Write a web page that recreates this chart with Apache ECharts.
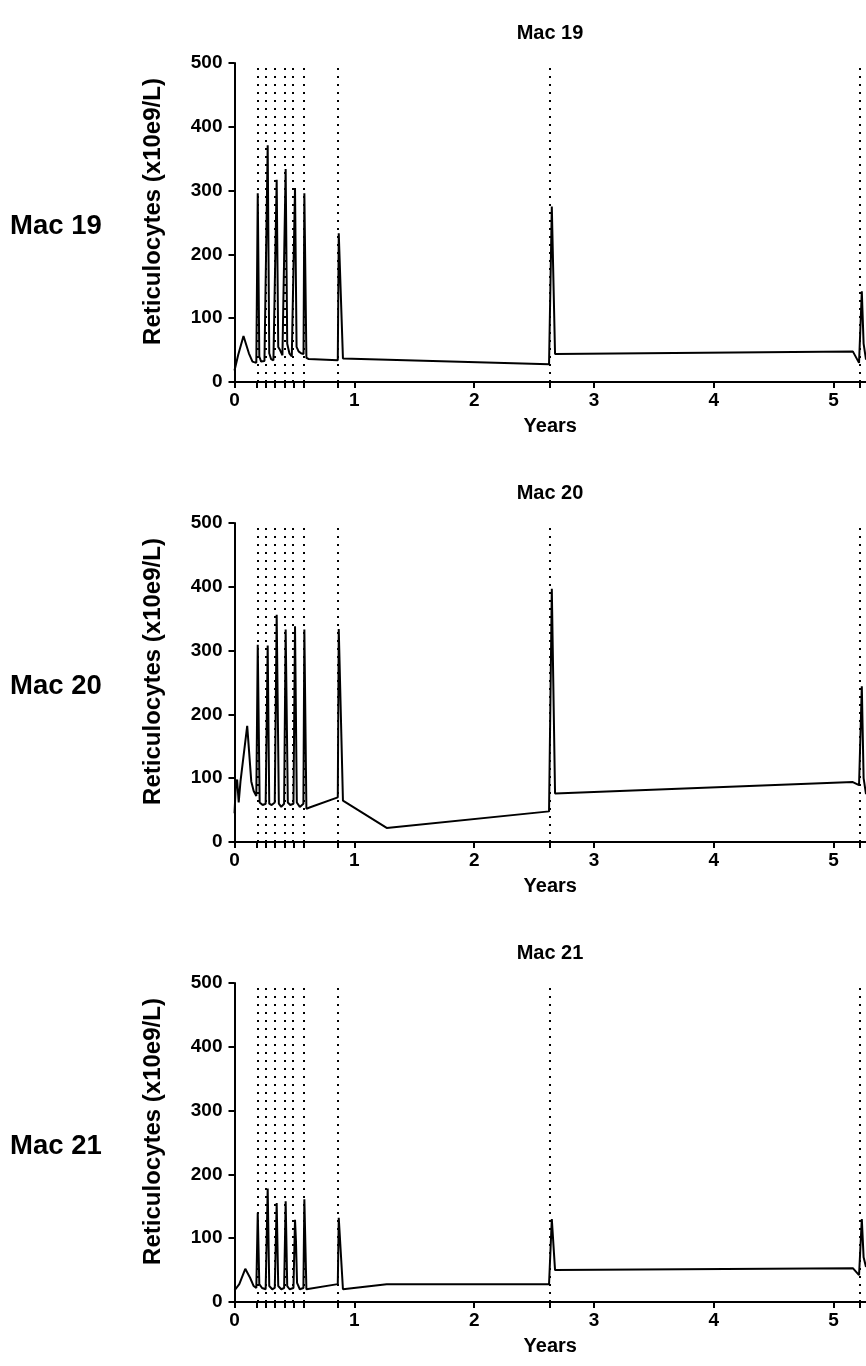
<!DOCTYPE html>
<html>
<head>
<meta charset="utf-8">
<script src="https://cdn.jsdelivr.net/npm/echarts@6/dist/echarts.min.js"></script>
<style>
html,body{margin:0;padding:0;background:#fff;}
#chart{width:866px;height:1366px;}
</style>
</head>
<body>
<div id="chart"></div>
<script>
// ---- data ----
const panelNames = ['Mac 19', 'Mac 20', 'Mac 21'];
const yAxisTitle = 'Reticulocytes (x10e9/L)';
const xAxisTitle = 'Years';
const yTicks = [0, 100, 200, 300, 400, 500];
const xTicks = [0, 1, 2, 3, 4, 5];
const treatmentTimes = [0.186, 0.263, 0.338, 0.416, 0.494, 0.577, 0.864, 2.634, 5.22];

const mac19Years = [0, 0.03, 0.075, 0.12, 0.15, 0.182, 0.194, 0.207, 0.222, 0.25, 0.262, 0.277, 0.29, 0.305, 0.325, 0.337, 0.352, 0.365, 0.38, 0.4, 0.415, 0.427, 0.44, 0.458, 0.478, 0.493, 0.505, 0.518, 0.535, 0.555, 0.576, 0.583, 0.6, 0.62, 0.862, 0.87, 0.905, 2.625, 2.648, 2.675, 5.16, 5.212, 5.235, 5.25, 5.27];
const mac19Retic = [18, 42, 72, 45, 32, 30, 296, 40, 32, 33, 34, 371, 45, 36, 34, 35, 317, 55, 50, 42, 40, 334, 60, 45, 40, 42, 304, 55, 48, 45, 44, 296, 38, 36, 34, 233, 37, 28, 275, 44, 48, 30, 142, 60, 35];

const mac20Years = [0, 0.01, 0.022, 0.035, 0.05, 0.106, 0.14, 0.16, 0.182, 0.194, 0.21, 0.235, 0.26, 0.277, 0.29, 0.31, 0.336, 0.352, 0.37, 0.39, 0.414, 0.427, 0.445, 0.465, 0.492, 0.505, 0.52, 0.545, 0.575, 0.583, 0.6, 0.626, 0.862, 0.87, 0.905, 1.27, 2.625, 2.648, 2.675, 5.16, 5.212, 5.235, 5.25, 5.27];
const mac20Retic = [45, 85, 98, 62, 95, 182, 95, 80, 72, 309, 62, 58, 60, 308, 60, 58, 62, 356, 60, 55, 60, 333, 62, 58, 60, 338, 62, 55, 60, 333, 52, 54, 70, 334, 65, 22, 48, 397, 76, 94, 89, 244, 100, 75];

const mac21Years = [0, 0.04, 0.09, 0.13, 0.16, 0.182, 0.194, 0.207, 0.23, 0.26, 0.277, 0.29, 0.315, 0.336, 0.352, 0.365, 0.39, 0.414, 0.427, 0.44, 0.46, 0.492, 0.505, 0.513, 0.522, 0.545, 0.575, 0.583, 0.6, 0.862, 0.87, 0.905, 1.27, 2.625, 2.648, 2.675, 5.16, 5.212, 5.235, 5.25, 5.27];
const mac21Retic = [18, 28, 52, 38, 25, 22, 140, 28, 22, 20, 178, 25, 20, 22, 155, 25, 20, 22, 158, 25, 20, 22, 129, 95, 30, 20, 22, 161, 20, 28, 132, 20, 28, 28, 130, 50, 53, 42, 130, 70, 55];

const seriesYears = [mac19Years, mac20Years, mac21Years];
const seriesRetic = [mac19Retic, mac20Retic, mac21Retic];

// ---- layout ----
const FONT = '"Liberation Sans", Arial, Helvetica, sans-serif';
const gridLeft = 234.5;
const gridTops = [63, 523, 983];
const gridHeight = 319;
const panelShift = 460;

const grids = [], xAxes = [], yAxes = [], series = [], graphics = [];
panelNames.forEach((name, i) => {
  grids.push({left: gridLeft, right: 0, top: gridTops[i], height: gridHeight, containLabel: false});
  xAxes.push({
    type: 'value', gridIndex: i, min: 0, max: 5.27,
    name: xAxisTitle, nameLocation: 'middle', nameGap: 34,
    nameTextStyle: {fontFamily: FONT, fontWeight: 'bold', fontSize: 20, color: '#000'},
    axisLine: {show: true, lineStyle: {color: '#000', width: 2}},
    axisTick: {show: true, length: 6, lineStyle: {color: '#000', width: 2}, customValues: xTicks.concat(treatmentTimes)},
    axisLabel: {fontFamily: FONT, fontWeight: 'bold', fontSize: 19, color: '#000', margin: 9, customValues: xTicks},
    splitLine: {show: false}
  });
  yAxes.push({
    type: 'value', gridIndex: i, min: 0, max: 500, interval: 100,
    name: yAxisTitle, nameLocation: 'middle', nameGap: 69, nameRotate: 90,
    nameTextStyle: {fontFamily: FONT, fontWeight: 'bold', fontSize: 24, color: '#000', padding: [0, 0, 0, 22]},
    axisLine: {show: true, lineStyle: {color: '#000', width: 2}},
    axisTick: {show: true, length: 6, lineStyle: {color: '#000', width: 2}},
    axisLabel: {fontFamily: FONT, fontWeight: 'bold', fontSize: 19, color: '#000', margin: 12},
    splitLine: {show: false}
  });
  series.push({
    type: 'line', xAxisIndex: i, yAxisIndex: i,
    data: seriesYears[i].map((x, k) => [x, seriesRetic[i][k]]),
    showSymbol: false, symbol: 'none',
    lineStyle: {color: '#000', width: 2},
    clip: true,
    markLine: {
      silent: true, symbol: 'none', animation: false,
      label: {show: false},
      lineStyle: {color: '#000', type: [2, 6], width: 2},
      data: treatmentTimes.map(t => ({xAxis: t}))
    }
  });
  graphics.push({
    type: 'text', x: 550, y: 33 + i * panelShift,
    style: {text: name, font: 'bold 20px ' + FONT, fill: '#000', textAlign: 'center', textVerticalAlign: 'middle'}
  });
  graphics.push({
    type: 'text', x: 10, y: 226 + i * panelShift,
    style: {text: name, font: 'bold 27.5px ' + FONT, fill: '#000', textAlign: 'left', textVerticalAlign: 'middle'}
  });
});

const chart = echarts.init(document.getElementById('chart'), null, {renderer: 'canvas'});
chart.setOption({
  animation: false,
  backgroundColor: '#fff',
  grid: grids, xAxis: xAxes, yAxis: yAxes, series: series,
  graphic: graphics
});
</script>
</body>
</html>
